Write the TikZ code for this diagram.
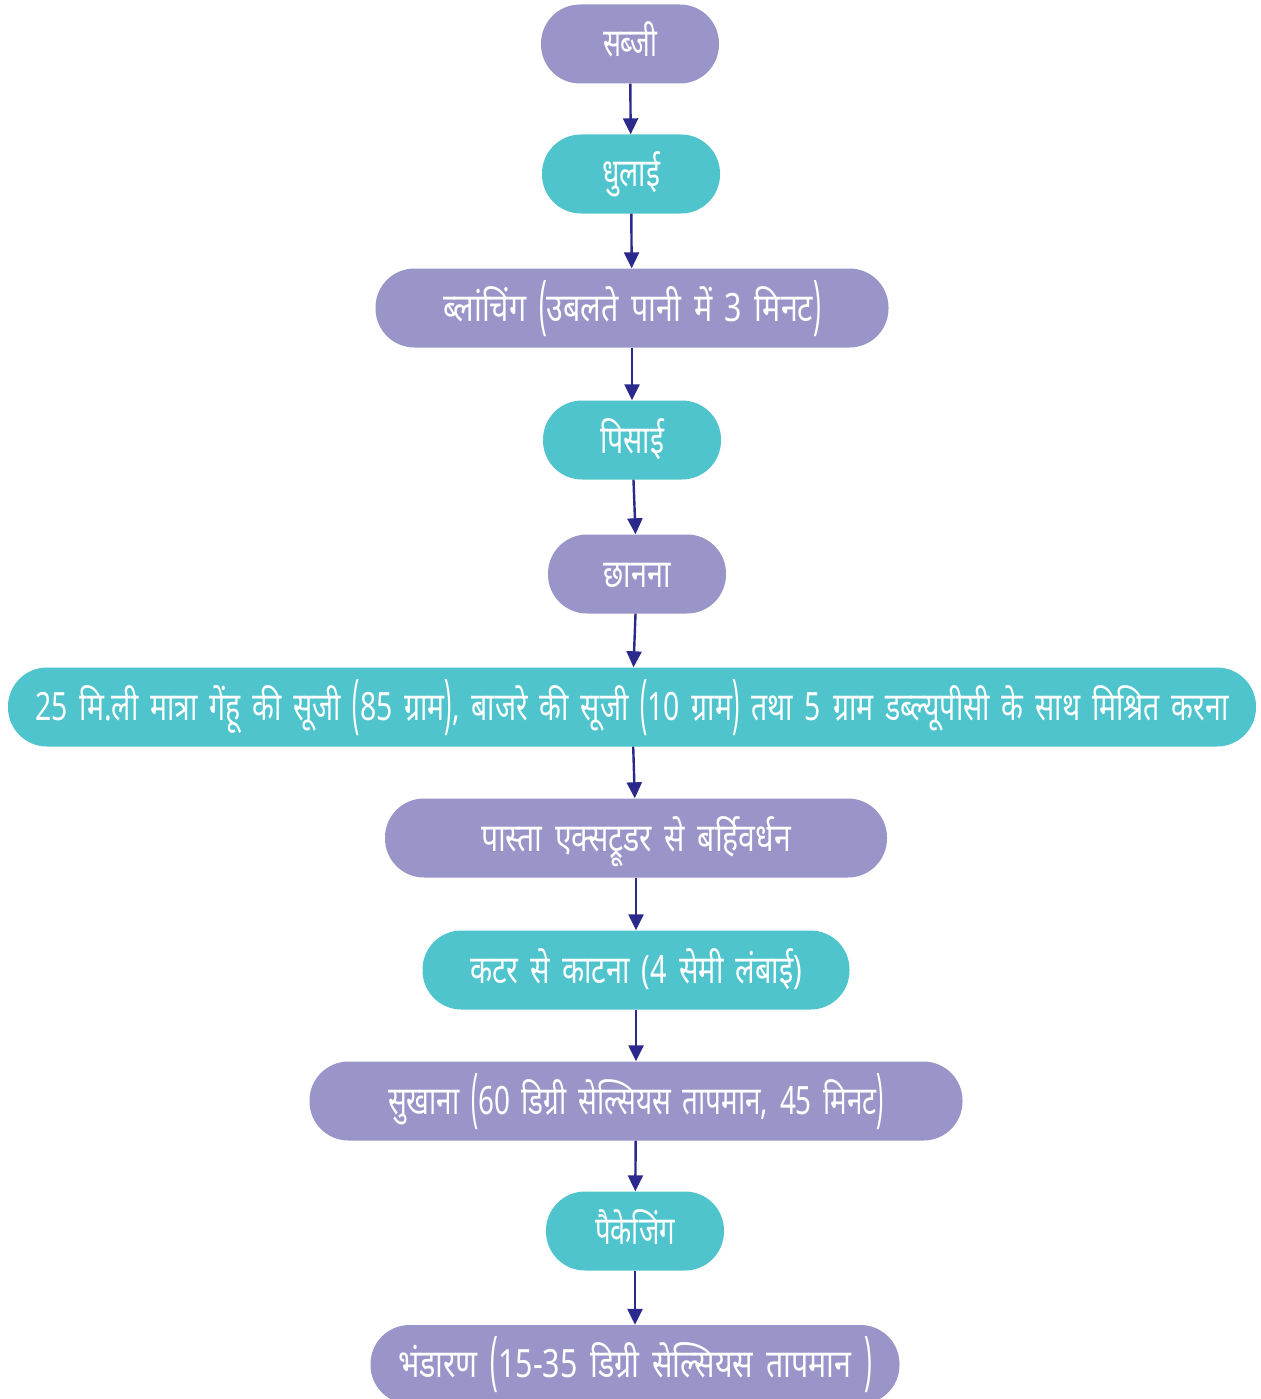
\documentclass[tikz,border=0pt]{standalone}
\usepackage{fontspec}
\usepackage{graphicx}
\newfontfamily\devfont[Script=Devanagari, WordSpace=1.6]{Noto Sans}
\usetikzlibrary{arrows.meta}
\definecolor{purbox}{HTML}{9A95C9}
\definecolor{tealbox}{HTML}{4FC4CD}
\definecolor{arrnavy}{HTML}{2B2A8C}
\newcommand\PL{\raisebox{-5pt}{\scalebox{0.85}[1.65]{(}}}
\newcommand\PR{\raisebox{-5pt}{\scalebox{0.85}[1.65]{)}}}
\newcommand\fitw[2]{\resizebox{#1pt}{\height}{#2}}
\tikzset{
  flowbox/.style={rounded corners=39pt, minimum height=79pt, inner sep=0pt,
    text height=30pt, text depth=4pt,
    text=white, font=\devfont\fontsize{39}{44}\selectfont},
  purfill/.style={flowbox, fill=purbox},
  tealfill/.style={flowbox, fill=tealbox},
  flowarrow/.style={draw=arrnavy, line width=2.4pt,
    -{Triangle[width=15pt,length=16pt]}}
}
\begin{document}
\begin{tikzpicture}[x=1pt,y=-1pt]
\useasboundingbox (0,0) rectangle (1260,1399);
\node[purfill, minimum width=178pt] (n1) at (630,44) {\fitw{54}{सब्जी}};
\node[tealfill, minimum width=178pt] (n2) at (631,174) {\fitw{58}{धुलाई}};
\node[purfill, minimum width=513pt] (n3) at (632,308) {\fitw{378}{ब्लांचिंग \PL उबलते पानी में 3 मिनट\PR}};
\node[tealfill, minimum width=178pt] (n4) at (632,440) {\fitw{64}{पिसाई}};
\node[purfill, minimum width=178pt] (n5) at (637,574) {\fitw{67}{छानना}};
\node[tealfill, minimum width=1248pt] (n6) at (632,707) {\fitw{1193}{25 मि.ली मात्रा गेंहू की सूजी \PL 85 ग्राम\PR, बाजरे की सूजी \PL 10 ग्राम\PR{} तथा 5 ग्राम डब्ल्यूपीसी के साथ मिश्रित करना}};
\node[purfill, minimum width=502pt] (n7) at (636,838) {\fitw{310}{पास्ता एक्सट्रूडर से बर्हिवर्धन}};
\node[tealfill, minimum width=427pt] (n8) at (636,970) {\fitw{332}{कटर से काटना (4 सेमी लंबाई)}};
\node[purfill, minimum width=653pt] (n9) at (636,1101) {\fitw{496}{सुखाना \PL 60 डिग्री सेल्सियस तापमान, 45 मिनट\PR}};
\node[tealfill, minimum width=178pt] (n10) at (635,1231) {\fitw{80}{पैकेजिंग}};
\node[purfill, minimum width=529pt] (n11) at (635,1364.5) {\fitw{474}{भंडारण \PL 15-35 डिग्री सेल्सियस तापमान \PR}};
\draw[flowarrow] (n1) -- (n2);
\draw[flowarrow] (n2) -- (n3);
\draw[flowarrow] (n3) -- (n4);
\draw[flowarrow] (n4) -- (n5);
\draw[flowarrow] (n5) -- (n6);
\draw[flowarrow] (n6) -- (n7);
\draw[flowarrow] (n7) -- (n8);
\draw[flowarrow] (n8) -- (n9);
\draw[flowarrow] (n9) -- (n10);
\draw[flowarrow] (n10) -- (n11);
\end{tikzpicture}
\end{document}
